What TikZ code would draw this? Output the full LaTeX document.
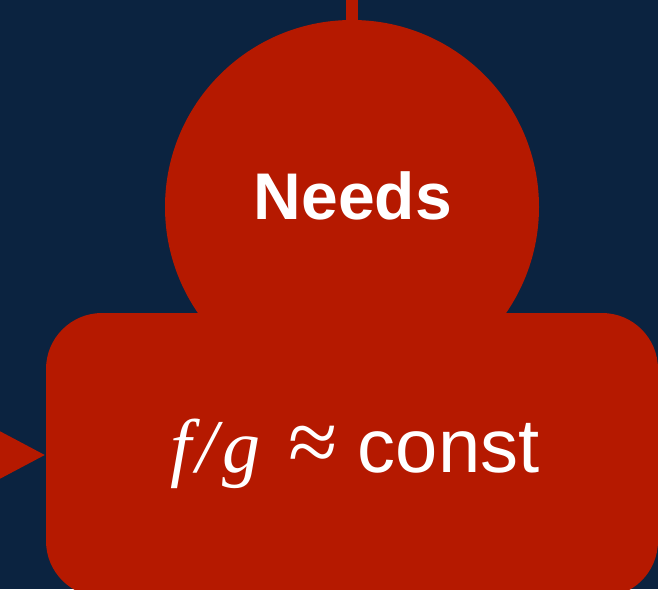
\documentclass[tikz,border=0pt]{standalone}
\usepackage{fontspec}
\setmainfont{Liberation Serif}
\setsansfont{Liberation Sans}
\usepackage{tikz}
\usetikzlibrary{arrows.meta,positioning}
\definecolor{bgnavy}{RGB}{11,35,64}
\definecolor{stepred}{RGB}{181,25,0}

\begin{document}
\begin{tikzpicture}[
  x=1pt, y=-1pt,
  blob/.style={circle, fill=stepred, minimum size=374pt, inner sep=0pt},
  panel/.style={rectangle, rounded corners=56pt, fill=stepred,
                minimum width=612pt, minimum height=284pt, inner sep=0pt},
  lbl/.style={text=white, inner sep=0pt, anchor=base},
  feed/.style={draw=stepred, line width=12pt,
               -{Triangle[length=46pt,width=44pt]}},
  wire/.style={draw=stepred, line width=12pt},
]
% background
\fill[bgnavy] (0,0) rectangle (658,589);
\useasboundingbox (0,0) rectangle (658,589);

% the two shapes
\node[blob] (needs) at (352,207) {};
\node[panel] (cond) at (352,455) {};
\node[lbl, font=\fontsize{66}{72}\selectfont\sffamily\bfseries]
  (needslbl) at (353,219) {Needs};
\node[lbl, font=\fontsize{76}{82}\selectfont\sffamily]
  (condlbl) at (355,472)
  {{\rmfamily\itshape f\kern5pt/\kern5pt g}\kern28pt{\rmfamily\fontsize{90}{90}\selectfont ≈}\kern20pt const};

% connectors
\coordinate (topin) at (352,-10);
\coordinate (leftin) at (-30,455);
\draw[wire] (topin) -- (needs.north);
\draw[feed] (leftin) -- (cond.west);
\end{tikzpicture}
\end{document}
